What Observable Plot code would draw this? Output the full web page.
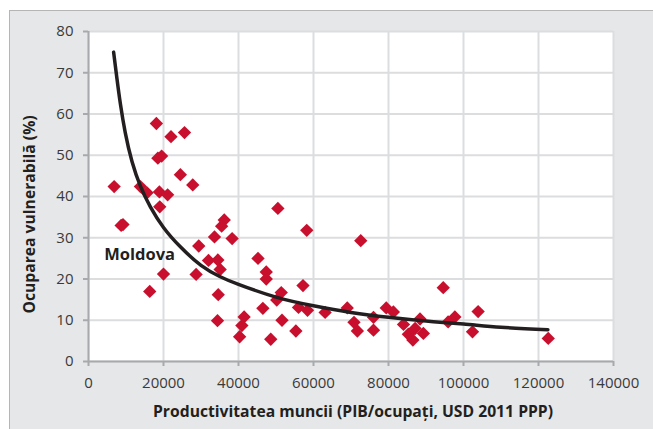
<!DOCTYPE html>
<html>
<head>
<meta charset="utf-8">
<script src="https://cdn.jsdelivr.net/npm/d3@7"></script>
<script src="https://cdn.jsdelivr.net/npm/@observablehq/plot@0.6"></script>
<style>
  html, body { margin: 0; padding: 0; background: #ffffff; }
  #wrap { position: relative; width: 653px; height: 429px; overflow: hidden; }
  #panel { position: absolute; left: 9px; top: 10px; right: -2px; bottom: -2px;
           background: #e6e7e8; border-left: 1px solid #b5b5b5; border-top: 1px solid #b5b5b5; }
  #chart { position: absolute; left: 0; top: 0; }
</style>
</head>
<body>
<div id="wrap"><div id="panel"></div><div id="chart"></div></div>
<script>
// Labour productivity (PIB/ocupați, USD 2011 PPP)
const productivity = [
  6840, 8700, 9200, 13850, 15620, 16330, 18100, 18500, 19500, 18900,
  19000, 20000, 21100, 22000, 24500, 25600, 27800, 28700, 29400, 32000,
  33600, 34500, 35100, 34600, 34400, 35500, 36200, 38300, 40300, 40900,
  41500, 45200, 46500, 47400, 47400, 48600, 50200, 50500, 51400, 51600,
  55300, 56000, 57200, 58200, 58400, 63100, 69000, 70800, 71700, 72600,
  76000, 76000, 79400, 81300, 84000, 85300, 86500, 87100, 88400, 89300,
  94600, 95900, 97700, 102400, 103900, 122600
];
// Vulnerable employment (%)
const vulnerable = [
  42.4, 33.0, 33.2, 42.4, 40.9, 17.0, 57.7, 49.3, 49.8, 41.1,
  37.5, 21.2, 40.4, 54.5, 45.3, 55.5, 42.8, 21.1, 28.0, 24.5,
  30.2, 24.6, 22.3, 16.2, 9.9, 32.8, 34.3, 29.8, 6.0, 8.7,
  10.8, 25.0, 12.9, 21.7, 20.0, 5.4, 14.9, 37.1, 16.7, 10.0,
  7.4, 13.1, 18.4, 31.8, 12.4, 11.9, 13.0, 9.5, 7.4, 29.3,
  7.6, 10.7, 13.0, 12.0, 9.0, 6.6, 5.2, 8.0, 10.3, 6.8,
  17.9, 9.6, 10.8, 7.2, 12.1, 5.6
];
// Trendline
const trendX = [6700, 7600, 8500, 9800, 11600, 13850, 16500, 20000, 24500, 30000,
  35000, 40000, 50000, 60000, 70000, 80000, 90000, 100000, 110000, 122500];
const trendY = [75, 68.5, 62.5, 55.5, 48.5, 42.5, 37.5, 32.5, 27.8, 23.3,
  20.6, 18.7, 15.6, 13.5, 11.9, 10.7, 9.8, 9.1, 8.3, 7.7];
// Annotation
const labelNames = ["Moldova"];
const labelX = [4200];
const labelY = [26.0];
// Axes
const xTicks = [0, 20000, 40000, 60000, 80000, 100000, 120000, 140000];
const yTicks = [0, 10, 20, 30, 40, 50, 60, 70, 80];
const xTitle = "Productivitatea muncii (PIB/ocupați, USD 2011 PPP)";
const yTitle = "Ocuparea vulnerabilă (%)";

const points = productivity.map((x, i) => ({x, y: vulnerable[i]}));
const trend = trendX.map((x, i) => ({x, y: trendY[i]}));
const labels = labelNames.map((t, i) => ({t, x: labelX[i], y: labelY[i]}));

const font = "'Open Sans', 'DejaVu Sans', sans-serif";
const axisGray = "#a7a9ac";
const gridGray = "#dcdddf";
const textDark = "#231f20";

const chart = Plot.plot({
  width: 653,
  height: 429,
  marginLeft: 88,
  marginRight: 40,
  marginTop: 31,
  marginBottom: 68,
  style: {background: "transparent", fontFamily: font, overflow: "visible"},
  x: {domain: [0, 140000]},
  y: {domain: [0, 80]},
  marks: [
    Plot.frame({fill: "white", stroke: "none"}),
    Plot.gridX(xTicks, {stroke: gridGray, strokeWidth: 2, strokeOpacity: 1}),
    Plot.gridY(yTicks, {stroke: gridGray, strokeWidth: 2, strokeOpacity: 1}),
    Plot.axisX(xTicks, {tickSize: 5, tickPadding: 11, tickFormat: d3.format("d"), label: null,
      stroke: axisGray, strokeWidth: 2, fill: "#3a3a3a", fontSize: 15}),
    Plot.axisY(yTicks, {tickSize: 5, tickPadding: 10, label: null,
      stroke: axisGray, strokeWidth: 2, fill: "#3a3a3a", fontSize: 15}),
    Plot.ruleX([0], {stroke: axisGray, strokeWidth: 2}),
    Plot.ruleY([0], {stroke: axisGray, strokeWidth: 2}),
    Plot.dot(points, {x: "x", y: "y", symbol: "diamond2", r: 6, fill: "#c8102e", stroke: "none"}),
    Plot.line(trend, {x: "x", y: "y", curve: "natural", stroke: "#231f20", strokeWidth: 3.5}),
    Plot.text(labels, {x: "x", y: "y", text: "t", textAnchor: "start", fontWeight: "bold",
      fontSize: 16.5, fill: textDark}),
    Plot.text([xTitle], {frameAnchor: "bottom", textAnchor: "middle", lineAnchor: "middle",
      dy: 50, dx: 2, fontWeight: "bold", fontSize: 15.7, fill: textDark}),
    Plot.text([yTitle], {frameAnchor: "left", textAnchor: "middle", lineAnchor: "middle",
      rotate: -90, dx: -59, dy: 18, fontWeight: "bold", fontSize: 15.7, fill: textDark})
  ]
});
document.getElementById("chart").appendChild(chart);
</script>
</body>
</html>
